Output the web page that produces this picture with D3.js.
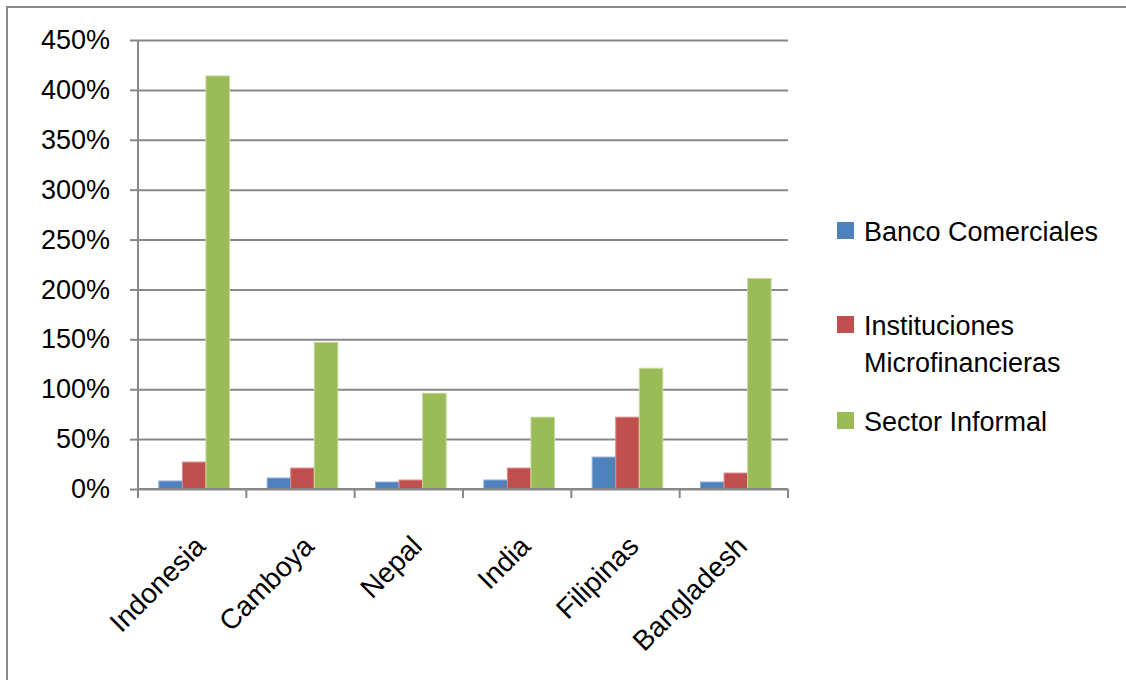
<!DOCTYPE html>
<html>
<head>
<meta charset="utf-8">
<script src="https://cdn.jsdelivr.net/npm/d3@7"></script>
<style>
  body { margin: 0; background: #fff; }
  svg { display: block; font-family: "Liberation Sans", Arial, sans-serif; }
</style>
</head>
<body>
<div id="chart"></div>
<script>
// chart data
const countries = ["Indonesia", "Camboya", "Nepal", "India", "Filipinas", "Bangladesh"];
const seriesNames = ["Banco Comerciales", "Instituciones Microfinancieras", "Sector Informal"];
const bancos = [8, 11, 7, 9, 32, 7];
const microfin = [27, 21, 9, 21, 72, 16];
const informal = [414, 147, 96, 72, 121, 211];
const yTicks = [0, 50, 100, 150, 200, 250, 300, 350, 400, 450];
const colors = ["#4F81BD", "#C0504D", "#9BBB59"];
const edgeColors = ["#8EABD6", "#DA8C8A", "#C6DA9E"];

const W = 1126, H = 680;
const margin = {top: 40, left: 138, right: 338, bottom: 191};
const innerW = W - margin.left - margin.right;
const innerH = H - margin.top - margin.bottom;

const svg = d3.select("#chart").append("svg")
  .attr("width", W)
  .attr("height", H);

// outer frame
svg.append("rect")
  .attr("x", 7).attr("y", 7)
  .attr("width", W + 10).attr("height", H + 10)
  .attr("fill", "none")
  .attr("stroke", "#8a8a8a")
  .attr("stroke-width", 2);

const g = svg.append("g")
  .attr("transform", `translate(${margin.left},${margin.top})`);

const x = d3.scaleBand()
  .domain(countries)
  .range([0, innerW])
  .paddingInner(0)
  .paddingOuter(0);

const inner = d3.scaleBand()
  .domain(seriesNames)
  .range([2, x.bandwidth() + 2])
  .paddingOuter(0.8)
  .paddingInner(0);

const y = d3.scaleLinear()
  .domain([0, 450])
  .range([innerH, 0]);

// gridlines
g.append("g")
  .call(d3.axisLeft(y).tickValues(yTicks).tickSize(-innerW).tickFormat(""))
  .call(a => a.select(".domain").remove())
  .selectAll("line")
  .attr("stroke", "#888")
  .attr("stroke-width", 2);

// y axis
g.append("g")
  .call(d3.axisLeft(y).tickValues(yTicks).tickSize(8).tickPadding(20).tickFormat(d => d + "%"))
  .call(a => a.select(".domain").attr("stroke", "#888").attr("stroke-width", 2).attr("d", `M0,0V${innerH}`))
  .call(a => a.selectAll("line").attr("stroke", "#888").attr("stroke-width", 2))
  .call(a => a.selectAll("text")
    .attr("fill", "#000")
    .style("font-size", "27px")
    .style("font-family", "'Liberation Sans', Arial, sans-serif"));

// bars
const seriesValues = [bancos, microfin, informal];
seriesValues.forEach((vals, si) => {
  g.append("g")
    .selectAll("rect")
    .data(countries)
    .join("rect")
    .attr("x", c => x(c) + inner(seriesNames[si]))
    .attr("y", (c, i) => y(vals[i]))
    .attr("width", inner.bandwidth())
    .attr("height", (c, i) => innerH - y(vals[i]))
    .attr("fill", colors[si])
    .attr("stroke", edgeColors[si])
    .attr("stroke-width", 1);
});

// x axis
const xAxis = g.append("g")
  .attr("transform", `translate(0,${innerH})`);

xAxis.append("line")
  .attr("x1", 0).attr("x2", innerW)
  .attr("stroke", "#888").attr("stroke-width", 2);

xAxis.selectAll(".tick")
  .data(d3.range(countries.length + 1))
  .join("line")
  .attr("x1", i => i * x.step()).attr("x2", i => i * x.step())
  .attr("y1", 0).attr("y2", 9)
  .attr("stroke", "#888").attr("stroke-width", 2);

xAxis.selectAll(".lbl")
  .data(countries)
  .join("text")
  .attr("transform", c => `translate(${x(c) + x.bandwidth() / 2 + 8},${52}) rotate(-45)`)
  .attr("text-anchor", "end")
  .attr("dy", "0.35em")
  .style("font-size", "28px")
  .attr("fill", "#000")
  .text(c => c);

// legend
const legend = svg.append("g");
const legendItems = [
  {lines: ["Banco Comerciales"], y: 222},
  {lines: ["Instituciones", "Microfinancieras"], y: 316},
  {lines: ["Sector Informal"], y: 412}
];
legendItems.forEach((item, i) => {
  legend.append("rect")
    .attr("x", 837).attr("y", item.y)
    .attr("width", 17).attr("height", 17)
    .attr("fill", colors[i]);
  item.lines.forEach((ln, j) => {
    legend.append("text")
      .attr("x", 864)
      .attr("y", item.y + 19 + j * 37)
      .style("font-size", "27px")
      .attr("fill", "#000")
      .text(ln);
  });
});
</script>
</body>
</html>
